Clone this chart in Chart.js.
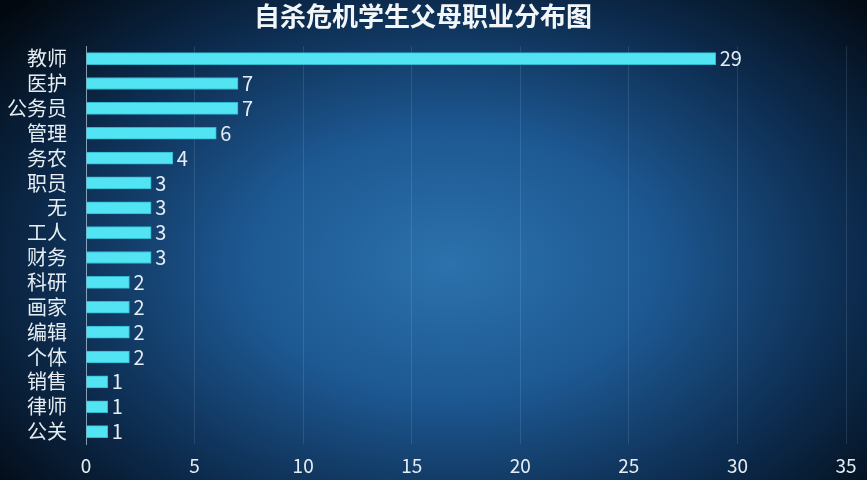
<!DOCTYPE html>
<html>
<head>
<meta charset="utf-8">
<script src="https://cdn.jsdelivr.net/npm/chart.js@4.4.1/dist/chart.umd.min.js"></script>
<style>
  html, body { margin: 0; padding: 0; }
  body {
    width: 867px; height: 480px; overflow: hidden;
    background: radial-gradient(ellipse 68% 80% at 52% 55%, #2c72ac 0%, #1d5892 35%, #0c2a4c 70%, #02080f 100%);
  }
  #wrap { position: relative; width: 867px; height: 480px; }
</style>
</head>
<body>
<div id="wrap"><canvas id="myChart" width="867" height="480"></canvas></div>
<script>
// categories, top to bottom
const jobs = ['教师', '医护', '公务员', '管理', '务农', '职员', '无', '工人', '财务', '科研', '画家', '编辑', '个体', '销售', '律师', '公关'];
const counts = [29, 7, 7, 6, 4, 3, 3, 3, 3, 2, 2, 2, 2, 1, 1, 1];
const xTicks = [0, 5, 10, 15, 20, 25, 30, 35];

const fontFam = '"Noto Sans CJK SC", "Noto Sans", sans-serif';

// value text at the end of each bar
const valueLabels = {
  id: 'valueLabels',
  afterDatasetsDraw(chart) {
    const ctx = chart.ctx;
    const meta = chart.getDatasetMeta(0);
    ctx.save();
    ctx.font = '20px ' + fontFam;
    ctx.fillStyle = '#e6edf2';
    ctx.textAlign = 'left';
    ctx.textBaseline = 'middle';
    meta.data.forEach((bar, i) => {
      ctx.fillText(String(counts[i]), bar.x + 4, bar.y);
    });
    ctx.restore();
  }
};

let myChart = document.getElementById('myChart')
  .getContext('2d');

let barChart = new Chart(myChart, {
  type: 'bar',
  data: {
    labels: jobs,
    datasets: [{
      data: counts,
      backgroundColor: '#52e4f3',
      borderColor: '#2fb8d0',
      borderWidth: 1,
      barThickness: 12
    }]
  },
  options: {
    indexAxis: 'y',
    responsive: false,
    animation: false,
    devicePixelRatio: 1,
    layout: { padding: { left: 0, right: 21, top: 0, bottom: 0 } },
    plugins: {
      legend: { display: false },
      tooltip: { enabled: false },
      title: {
        display: true,
        text: '自杀危机学生父母职业分布图',
        color: '#f2f6f8',
        font: { family: fontFam, size: 26, weight: 'bold' },
        padding: { top: 1, bottom: 14 }
      }
    },
    scales: {
      x: {
        min: 0,
        max: 35,
        afterBuildTicks(scale) {
          scale.ticks = xTicks.map(v => ({ value: v }));
        },
        afterFit(scale) { scale.height = 36; },
        grid: {
          color: 'rgba(200,225,245,0.13)',
          drawTicks: false
        },
        border: { display: false },
        ticks: {
          color: '#e6edf2',
          padding: 10,
          font: { family: fontFam, size: 19 }
        }
      },
      y: {
        afterFit(scale) { scale.width = 86; },
        grid: { display: false },
        border: { display: true, color: 'rgba(220,235,245,0.55)', width: 1 },
        ticks: {
          autoSkip: false,
          color: '#e6edf2',
          padding: 11,
          font: { family: fontFam, size: 20 }
        }
      }
    }
  },
  plugins: [valueLabels]
});
</script>
</body>
</html>
